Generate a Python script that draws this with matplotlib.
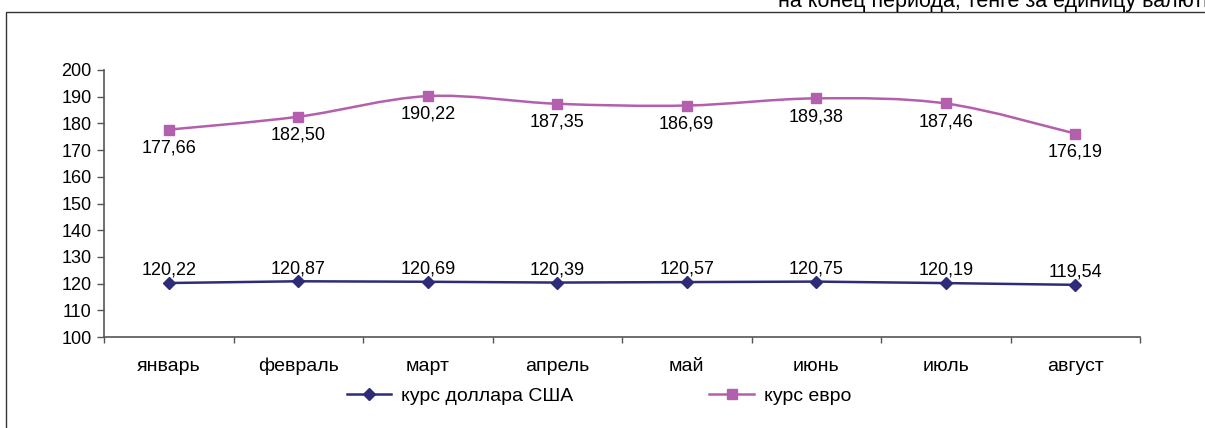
import matplotlib
matplotlib.use("Agg")
import matplotlib.pyplot as plt
from matplotlib.path import Path
from matplotlib.patches import PathPatch, Rectangle
from matplotlib.lines import Line2D
import numpy as np

plt.rcParams['font.family'] = ['Liberation Sans', 'DejaVu Sans']

months = ["январь", "февраль", "март", "апрель", "май", "июнь", "июль", "август"]
usd = [120.22, 120.87, 120.69, 120.39, 120.57, 120.75, 120.19, 119.54]
eur = [177.66, 182.50, 190.22, 187.35, 186.69, 189.38, 187.46, 176.19]
usd_label = "курс доллара США"
eur_label = "курс евро"
subtitle = "на конец периода, тенге за единицу валюты"

usd_color = "#2E2C78"
eur_color = "#B35FAD"
fs_num = 13
fs_txt = 14

fig = plt.figure(figsize=(12.05, 4.28), dpi=100)
fig.patch.set_facecolor("white")
fig.patches.append(Rectangle((6 / 1205, -0.2), 1.5, 1.2 - 12 / 428,
                             transform=fig.transFigure, fill=False,
                             edgecolor="#333333", linewidth=1.0))
fig.text(778 / 1205, 1 - 7 / 428, subtitle, ha="left", va="baseline",
         fontsize=15.5, color="black")

ax = fig.add_axes([104 / 1205, 1 - 337 / 428, (1140 - 104) / 1205, (337 - 70) / 428])
x = np.arange(len(months))

# smoothed euro line (Bezier through data points)
pts = np.column_stack([x, eur]).astype(float)
verts = [tuple(pts[0])]
codes = [Path.MOVETO]
n = len(pts)
for i in range(n - 1):
    p0 = pts[i - 1] if i > 0 else pts[i]
    p1 = pts[i]
    p2 = pts[i + 1]
    p3 = pts[i + 2] if i + 2 < n else pts[i + 1]
    c1 = p1 + (p2 - p0) / 6.0
    c2 = p2 - (p3 - p1) / 6.0
    verts += [tuple(c1), tuple(c2), tuple(p2)]
    codes += [Path.CURVE4] * 3
ax.add_patch(PathPatch(Path(verts, codes), facecolor="none", edgecolor=eur_color,
                       linewidth=1.8, zorder=3))
ax.plot(x, eur, linestyle="none", marker="s", markersize=7, color=eur_color, zorder=4)
ax.plot(x, usd, color=usd_color, linewidth=1.8, marker="D", markersize=6, zorder=4)

for xi, v in zip(x, eur):
    ax.annotate(f"{v:.2f}".replace(".", ","), (xi, v), xytext=(0, -7),
                textcoords="offset points", ha="center", va="top", fontsize=fs_num)
for xi, v in zip(x, usd):
    ax.annotate(f"{v:.2f}".replace(".", ","), (xi, v), xytext=(0, 3),
                textcoords="offset points", ha="center", va="bottom", fontsize=fs_num)

ax.set_xlim(-0.5, len(months) - 0.5)
ax.set_ylim(100, 200)
ax.set_yticks(np.arange(100, 201, 10))
ax.tick_params(axis="y", direction="out", length=5, width=1, color="#555555",
               labelsize=fs_num, pad=4)
ax.set_xticks(np.arange(-0.5, len(months), 1.0))
ax.set_xticklabels([])
ax.tick_params(axis="x", which="major", direction="out", length=4, width=1, color="#555555")
ax.set_xticks(x, minor=True)
ax.set_xticklabels(months, minor=True)
ax.tick_params(axis="x", which="minor", length=0, labelsize=fs_txt, pad=15)
for s in ["top", "right"]:
    ax.spines[s].set_visible(False)
for s in ["left", "bottom"]:
    ax.spines[s].set_color("#555555")
    ax.spines[s].set_linewidth(1.2)

handles = [Line2D([], [], color=usd_color, linewidth=1.8, marker="D", markersize=6),
           Line2D([], [], color=eur_color, linewidth=1.8, marker="s", markersize=7)]
fig.legend(handles, [usd_label, eur_label], loc="center", ncol=2,
           bbox_to_anchor=(599 / 1205, 1 - 396 / 428), frameon=False,
           fontsize=fs_txt, handlelength=2.3, handletextpad=0.5, columnspacing=7.0)

fig.savefig("out.png", dpi=100, facecolor="white")
